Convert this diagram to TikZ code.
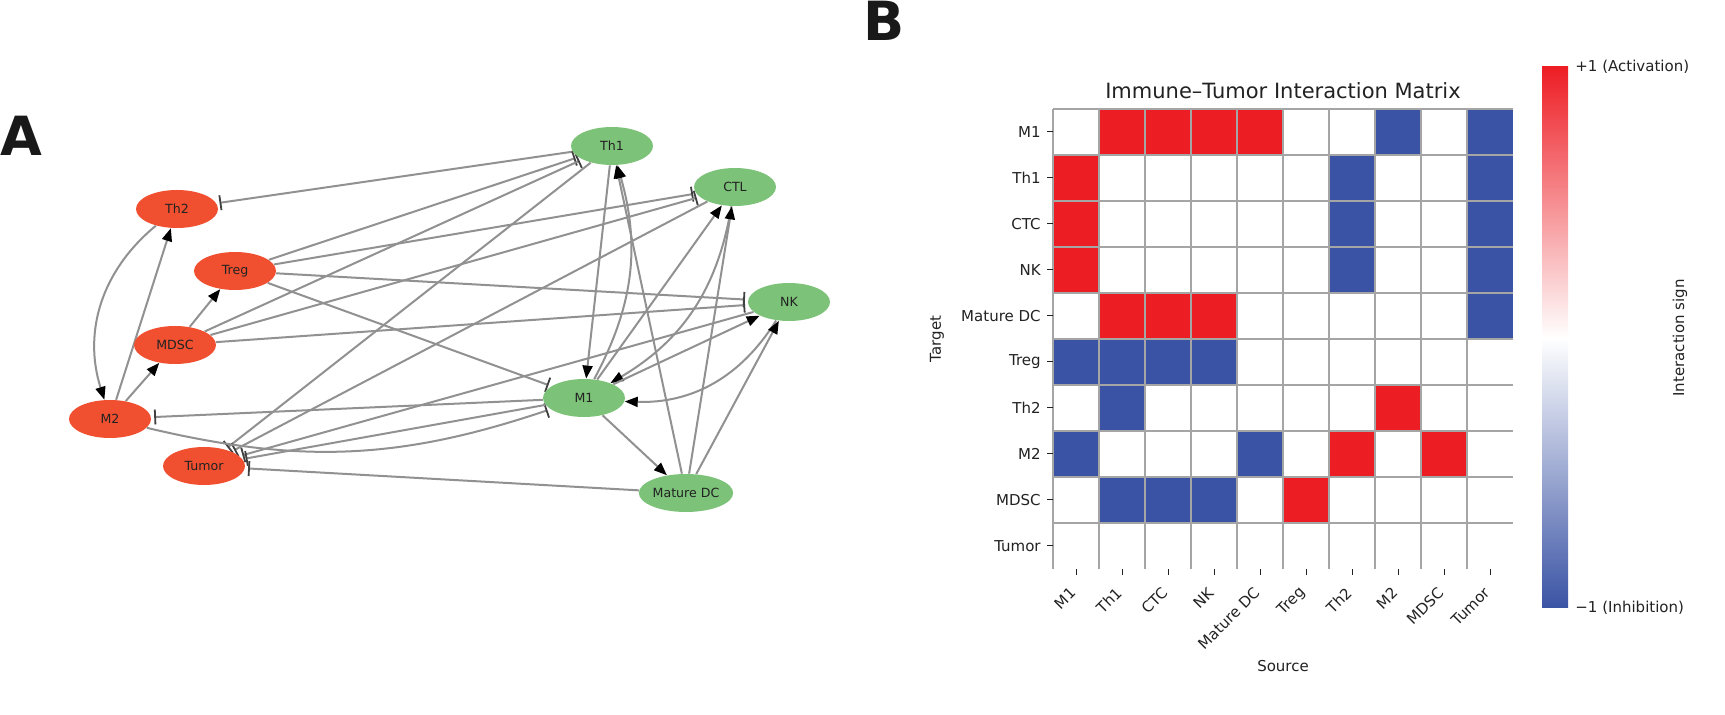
\documentclass[tikz,border=0pt]{standalone}
\usepackage{fontspec}
\setmainfont{DejaVu Sans}
\usetikzlibrary{arrows.meta,shapes.geometric}
\pgfdeclarelayer{background}
\pgfsetlayers{background,main}
\definecolor{nred}{RGB}{240,80,48}
\definecolor{ngreen}{RGB}{124,194,120}
\definecolor{edgegray}{RGB}{145,145,145}
\definecolor{hred}{RGB}{237,29,36}
\definecolor{hblue}{RGB}{58,83,164}
\definecolor{gridgray}{RGB}{165,165,165}
\definecolor{txt}{RGB}{34,34,34}
\begin{document}
\begin{tikzpicture}[x=0.5pt,y=0.5pt,
  gnode/.style={ellipse, minimum width=41pt, minimum height=19pt, inner sep=0pt, font=\fontsize{6.3}{7}\selectfont, text=txt},
  rednode/.style={gnode, fill=nred},
  greennode/.style={gnode, fill=ngreen},
  act/.style={draw=edgegray, line width=1pt, -{Triangle[length=6.5pt,width=5pt,color=black,fill=black]}},
  inh/.style={draw=edgegray, line width=1pt, -{Bar[width=7.5pt,line width=0.9pt,color=black!75]}, shorten >=1.5pt},
  ticklab/.style={font=\fontsize{7.5}{9}\selectfont, text=txt, inner sep=0pt},
  tickmark/.style={draw=txt, line width=0.5pt},
  panel/.style={font=\fontsize{27}{27}\selectfont\bfseries, text=black!90, inner sep=0pt}
]
\useasboundingbox (0,0) rectangle (1725,-715);
\begin{pgfonlayer}{background}
\fill[white] (0,0) rectangle (1725,-715);
\end{pgfonlayer}

% panel letters
\node[panel, anchor=base west] (pA) at (0,-156) {A};
\node[panel, anchor=base west] (pB) at (863,-41) {B};

% ---------------- network ----------------
\node[greennode] (Th1) at (612,-146) {Th1};
\node[greennode] (CTL) at (735,-187) {CTL};
\node[greennode] (NK) at (789,-302) {NK};
\node[greennode] (M1) at (584,-398) {M1};
\node[greennode] (MDC) at (686,-493) {Mature DC};
\node[rednode] (Th2) at (177,-209) {Th2};
\node[rednode] (Treg) at (235,-271) {Treg};
\node[rednode] (MDSC) at (175,-345) {MDSC};
\node[rednode] (M2) at (110,-419) {M2};
\node[rednode] (Tumor) at (204,-466) {Tumor};

\begin{pgfonlayer}{background}
% activations
\draw[act] (M1) to[bend right=22] (Th1);
\draw[act] (Th1) -- (M1);
\draw[act] (M1) -- (CTL);
\draw[act] (CTL) to[bend left=25] (M1);
\draw[act] (M1) -- (NK);
\draw[act] (NK) to[bend left=30] (M1);
\draw[act] (M1) -- (MDC);
\draw[act] (MDC) -- (Th1);
\draw[act] (MDC) -- (CTL);
\draw[act] (MDC) -- (NK);
\draw[act] (M2) -- (Th2);
\draw[act] (Th2) to[bend right=34] (M2);
\draw[act] (M2) -- (MDSC);
\draw[act] (MDSC) -- (Treg);
% inhibitions
\draw[inh] (Th1) -- (Th2);
\draw[inh] (Treg) -- (Th1);
\draw[inh] (MDSC) -- (Th1);
\draw[inh] (Th1) -- (Tumor);
\draw[inh] (Treg) -- (CTL);
\draw[inh] (MDSC) -- (CTL);
\draw[inh] (CTL) -- (Tumor);
\draw[inh] (Treg) -- (NK);
\draw[inh] (MDSC) -- (NK);
\draw[inh] (NK) -- (Tumor);
\draw[inh] (Treg) -- (M1);
\draw[inh] (M1) -- (M2);
\draw[inh] (M2) to[bend right=16] (M1);
\draw[inh] (M1) -- (Tumor);
\draw[inh] (MDC) -- (Tumor);
\end{pgfonlayer}

% ---------------- heatmap ----------------
\foreach \i/\j/\c in {1/0/hred,2/0/hred,3/0/hred,4/0/hred,7/0/hblue,9/0/hblue,
  0/1/hred,6/1/hblue,9/1/hblue,
  0/2/hred,6/2/hblue,9/2/hblue,
  0/3/hred,6/3/hblue,9/3/hblue,
  1/4/hred,2/4/hred,3/4/hred,9/4/hblue,
  0/5/hblue,1/5/hblue,2/5/hblue,3/5/hblue,
  1/6/hblue,7/6/hred,
  0/7/hblue,4/7/hblue,6/7/hred,8/7/hred,
  1/8/hblue,2/8/hblue,3/8/hblue,5/8/hred}
  \fill[\c] ({1053+46*\i},{-109-46*\j}) rectangle ++(46,-46);
\foreach \i in {0,...,9}
  \draw[gridgray, line width=0.6pt] ({1053+46*\i},-109) -- ++(0,-460);
\foreach \j in {0,...,9}
  \draw[gridgray, line width=0.6pt] (1053,{-109-46*\j}) -- ++(460,0);

\foreach \j/\lab in {0/M1,1/Th1,2/CTC,3/NK,4/Mature DC,5/Treg,6/Th2,7/M2,8/MDSC,9/Tumor}{
  \draw[tickmark] (1053,{-132-46*\j}) -- ++(-6,0);
  \node[ticklab, anchor=east] (row\j) at (1041,{-132-46*\j}) {\lab};
}
\foreach \i/\lab in {0/M1,1/Th1,2/CTC,3/NK,4/Mature DC,5/Treg,6/Th2,7/M2,8/MDSC,9/Tumor}{
  \draw[tickmark] ({1076+46*\i},-569) -- ++(0,-6);
  \node[ticklab, anchor=east, rotate=45] (col\i) at ({1073+46*\i},-590) {\lab};
}

\node[font=\fontsize{10.5}{12}\selectfont, text=txt] (title) at (1283,-91) {Immune–Tumor Interaction Matrix};
\node[ticklab, rotate=90] (ylab) at (937,-339) {Target};
\node[ticklab] (xlab) at (1283,-666) {Source};

% colorbar
\shade[top color=hred, bottom color=white] (1542,-67) rectangle (1568,-338);
\shade[top color=white, bottom color=hblue] (1542,-338) rectangle (1568,-608);
\node[ticklab, anchor=west] (cbtop) at (1575,-67) {+1 (Activation)};
\node[ticklab, anchor=west] (cbbot) at (1575,-608) {−1 (Inhibition)};
\node[ticklab, rotate=90] (cblab) at (1680,-338) {Interaction sign};
\end{tikzpicture}
\end{document}
